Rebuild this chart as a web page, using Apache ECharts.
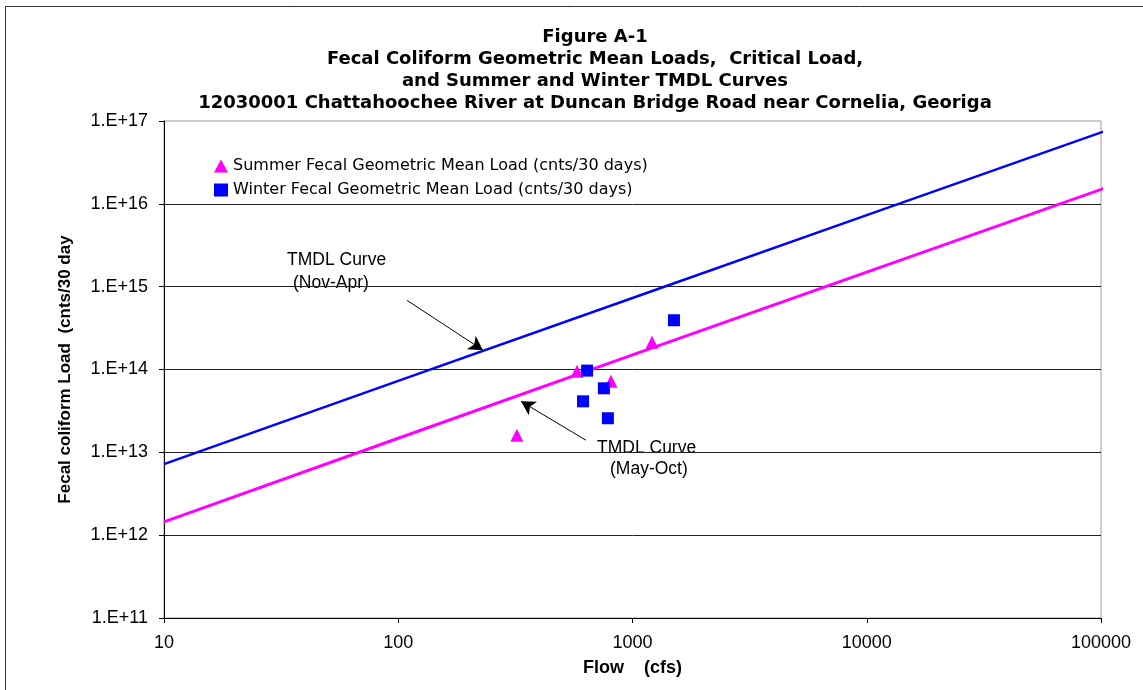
<!DOCTYPE html>
<html>
<head>
<meta charset="utf-8">
<script src="https://cdn.jsdelivr.net/npm/echarts@6/dist/echarts.min.js"></script>
<style>
html,body{margin:0;padding:0;background:#fff;}
#chart{width:1143px;height:690px;}
</style>
</head>
<body>
<div id="chart"></div>
<script>
// ---- data ----
var titleLines = [
  'Figure A-1',
  'Fecal Coliform Geometric Mean Loads,  Critical Load,',
  'and Summer and Winter TMDL Curves',
  '12030001 Chattahoochee River at Duncan Bridge Road near Cornelia, Georiga'
];
var summerName = 'Summer Fecal Geometric Mean Load (cnts/30 days)';
var winterName = 'Winter Fecal Geometric Mean Load (cnts/30 days)';
// flow (cfs), load (cnts/30 days)
var summerFlow = [321, 580, 809, 1211];
var summerLoad = [1.61e13, 9.5e13, 7.2e13, 2.13e14];
var winterFlow = [1503, 640, 755, 615, 785];
var winterLoad = [3.93e14, 9.7e13, 5.93e13, 4.13e13, 2.58e13];
// TMDL curves
var curveFlow = [10, 100, 1000, 10000, 106000];
var winterCurve = [7.2e12, 7.3e13, 7.3e14, 7.3e15, 7.7e16];
var summerCurve = [1.45e12, 1.48e13, 1.5e14, 1.5e15, 1.58e16];
// annotation arrows [from, to] in data coords
var arrowNovApr = [[109, 6.84e14], [230, 1.71e14]];
var arrowMayOct = [[633, 1.4e13], [334, 4.13e13]];

function pairs(xs, ys){ return xs.map(function(x,i){ return [x, ys[i]]; }); }

var FONT = '"Liberation Sans", Arial, sans-serif';
var TFONT = '"DejaVu Sans", "Liberation Sans", sans-serif';
var chart = echarts.init(document.getElementById('chart'), null, {renderer:'canvas'});

var option = {
  backgroundColor: '#fff',
  animation: false,
  title: {
    text: titleLines.join('\n'),
    left: 590, top: 21, textAlign: 'center',
    textStyle: {fontFamily: TFONT, fontSize: 18, fontWeight: 'bold', color: '#000', lineHeight: 22}
  },
  legend: {
    orient: 'vertical', left: 209, top: 153, itemGap: 8,
    itemWidth: 14, itemHeight: 13,
    data: [{name: summerName, icon: 'triangle'}, {name: winterName, icon: 'rect'}],
    textStyle: {fontFamily: TFONT, fontSize: 16, color: '#000'},
    itemStyle: {borderWidth: 0, opacity: 1}
  },
  grid: {left: 164, top: 121, right: 42, bottom: 72, show: true, borderColor: '#999', borderWidth: 1},
  xAxis: {
    type: 'log', logBase: 10, min: 10, max: 100000,
    name: 'Flow    (cfs)', nameLocation: 'middle', nameGap: 41,
    nameTextStyle: {fontFamily: FONT, fontSize: 18, fontWeight: 'bold', color: '#000'},
    axisLine: {lineStyle: {color: '#000', width: 1}},
    axisTick: {show: true, inside: false, length: 5, lineStyle: {color: '#000'}},
    minorTick: {show: false},
    splitLine: {show: false},
    axisLabel: {fontFamily: FONT, fontSize: 18, color: '#000', margin: 16,
      formatter: function(v){ return String(Math.round(v)); }}
  },
  yAxis: {
    type: 'log', logBase: 10, min: 1e11, max: 1e17,
    name: 'Fecal coliform Load  (cnts/30 day', nameLocation: 'middle', nameGap: 90, nameRotate: 90,
    nameTextStyle: {fontFamily: FONT, fontSize: 17, fontWeight: 'bold', color: '#000'},
    axisLine: {lineStyle: {color: '#000', width: 1}},
    axisTick: {show: true, inside: false, length: 5, lineStyle: {color: '#000'}},
    splitLine: {show: true, showMaxLine: false, lineStyle: {color: '#222', width: 1}},
    axisLabel: {fontFamily: FONT, fontSize: 18, color: '#000', margin: 16,
      formatter: function(v){ return '1.E+' + Math.round(Math.log10(v)); }}
  },
  graphic: [
    {type: 'rect', shape: {x: 5.5, y: 6.5, width: 1200, height: 700}, style: {fill: 'none', stroke: '#333', lineWidth: 1}, silent: true, z: -1},
    {type: 'text', left: 287, top: 251, style: {text: 'TMDL Curve', font: '17.5px ' + FONT, fill: '#000'}},
    {type: 'text', left: 293, top: 274, style: {text: '(Nov-Apr)', font: '17.5px ' + FONT, fill: '#000'}},
    {type: 'text', left: 597, top: 439, style: {text: 'TMDL Curve', font: '17.5px ' + FONT, fill: '#000'}},
    {type: 'text', left: 610, top: 460, style: {text: '(May-Oct)', font: '17.5px ' + FONT, fill: '#000'}}
  ],
  series: [
    {
      name: 'TMDL Nov-Apr', type: 'line', data: pairs(curveFlow, winterCurve), clip: false,
      showSymbol: false, symbol: 'none', lineStyle: {color: '#0000ff', width: 2.5}, z: 2,
      markLine: {
        silent: true, symbol: ['none', 'arrow'], symbolSize: [12, 14],
        label: {show: false},
        lineStyle: {color: '#000', width: 1, type: 'solid'},
        data: [[{coord: arrowNovApr[0]}, {coord: arrowNovApr[1]}]]
      }
    },
    {
      name: 'TMDL May-Oct', type: 'line', data: pairs(curveFlow, summerCurve), clip: false,
      showSymbol: false, symbol: 'none', lineStyle: {color: '#ff00ff', width: 3}, z: 2,
      markLine: {
        silent: true, symbol: ['none', 'arrow'], symbolSize: [12, 14],
        label: {show: false},
        lineStyle: {color: '#000', width: 1, type: 'solid'},
        data: [[{coord: arrowMayOct[0]}, {coord: arrowMayOct[1]}]]
      }
    },
    {
      name: summerName, type: 'scatter', data: pairs(summerFlow, summerLoad),
      symbol: 'triangle', symbolSize: 13, itemStyle: {color: '#ff00ff', opacity: 1}, z: 3
    },
    {
      name: winterName, type: 'scatter', data: pairs(winterFlow, winterLoad),
      symbol: 'rect', symbolSize: 12, itemStyle: {color: '#0000ff', opacity: 1}, z: 3
    }
  ]
};
chart.setOption(option);
</script>
</body>
</html>
